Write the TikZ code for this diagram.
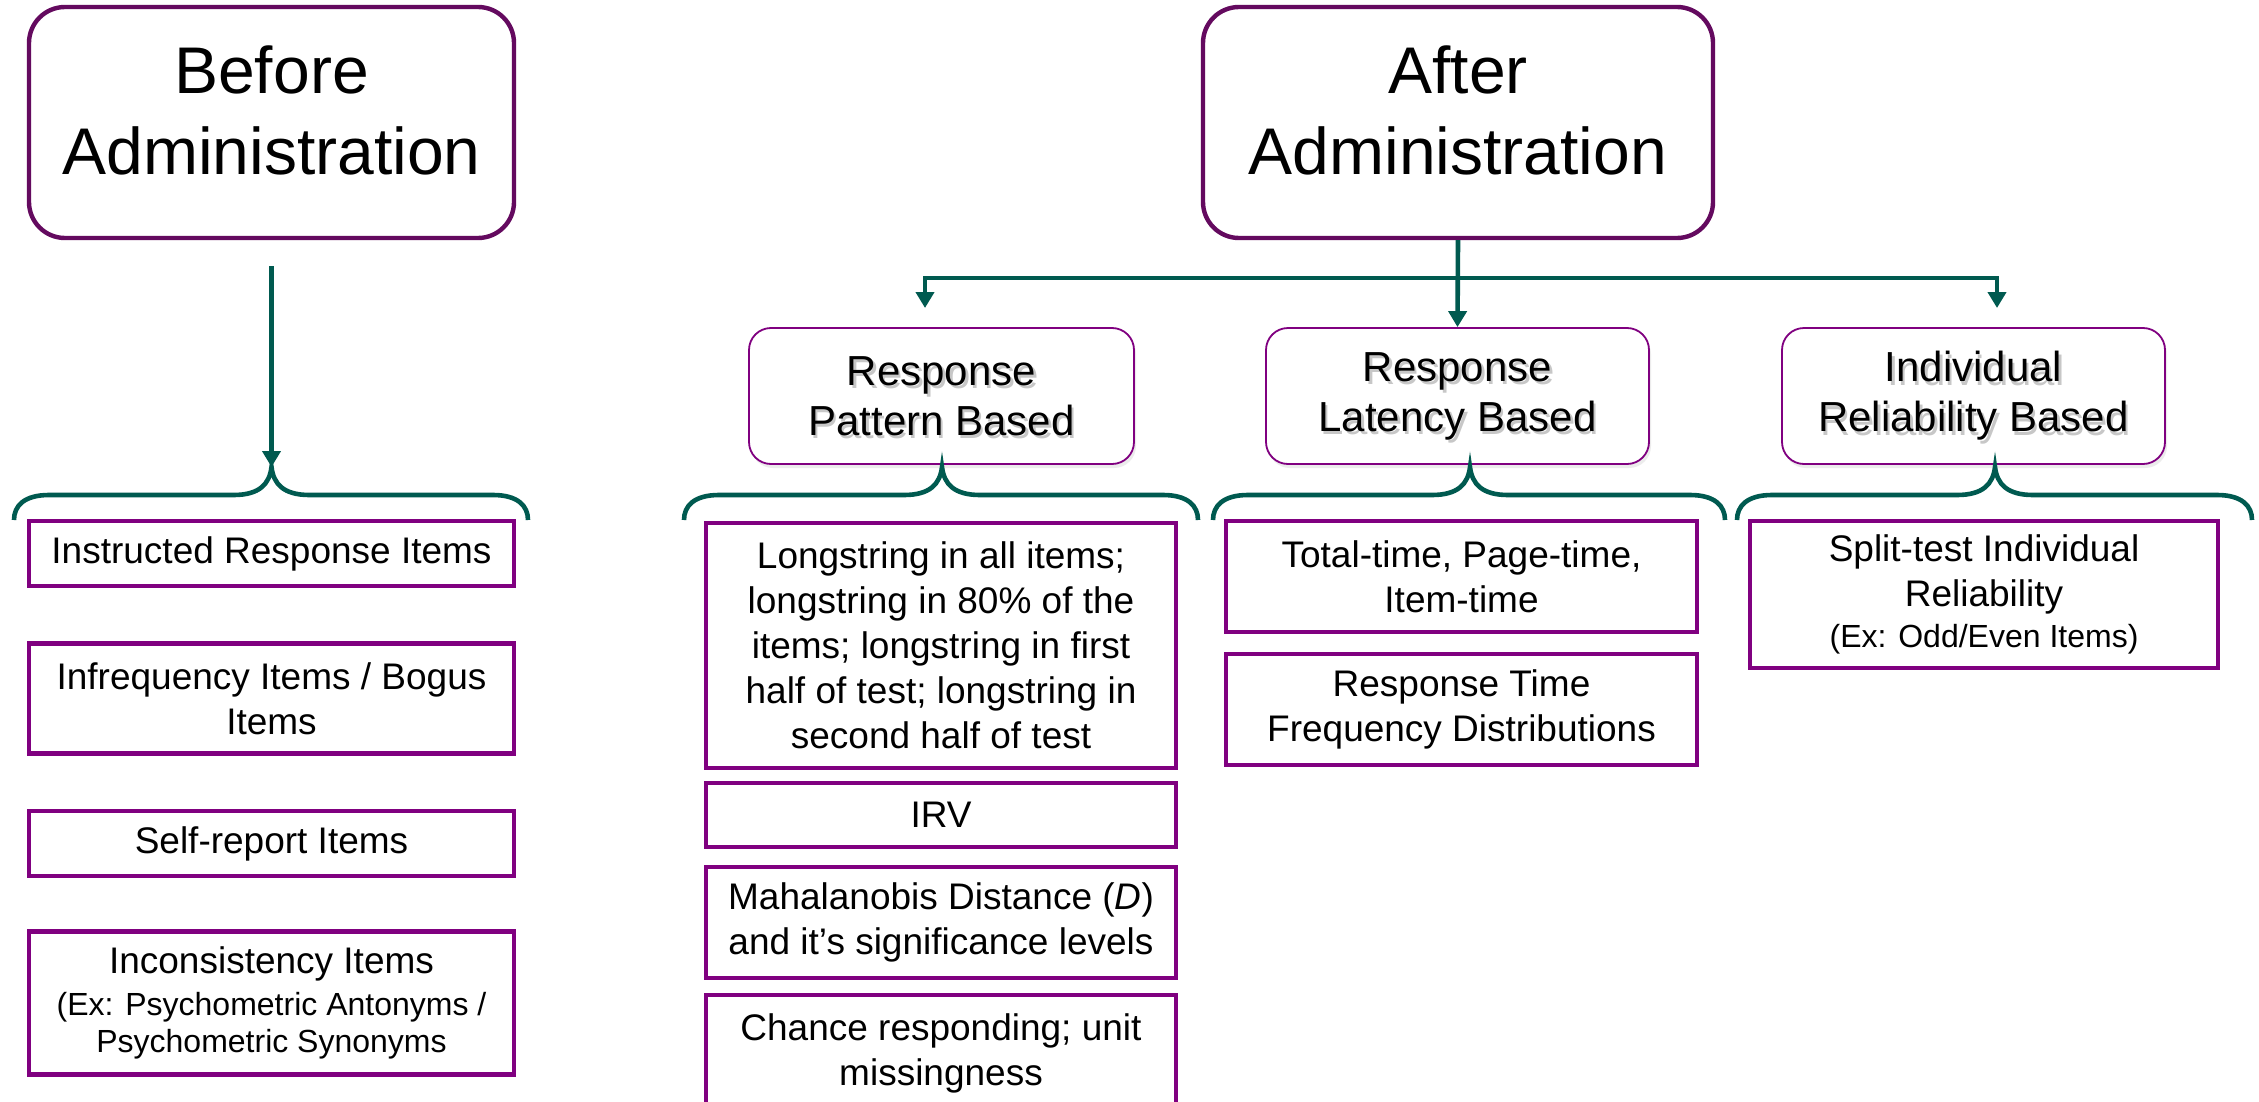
\documentclass[tikz,border=0pt]{standalone}
\usepackage{fontspec}
\setmainfont{Liberation Sans}
\usetikzlibrary{arrows.meta,shadows}
\definecolor{bigpurple}{RGB}{100,10,95}
\definecolor{itempurple}{RGB}{128,0,128}
\definecolor{tealc}{RGB}{0,90,80}
\tikzset{
 bigbox/.style={draw=bigpurple, line width=2.2pt, rounded corners=18pt, fill=white},
 bigtext/.style={font=\fontsize{33}{40.5}\selectfont, align=center, inner sep=0pt},
 catbox/.style={draw=itempurple, line width=0.9pt, rounded corners=11pt, fill=white,
   drop shadow={opacity=0.15, shadow xshift=1pt, shadow yshift=-2pt}},
 cattext/.style={font=\fontsize{21}{25}\selectfont, align=center, inner sep=0pt},
 catshadow/.style={cattext, text=black, text opacity=0.22},
 item/.style={draw=itempurple, line width=2.2pt, align=center, inner sep=0pt,
   font=\fontsize{18.5}{22.5}\selectfont},
 conn/.style={draw=tealc, line width=2.3pt, -{Triangle[width=9pt,length=8pt]}},
 brace/.style={draw=tealc, line width=2.3pt},
}
\newcommand{\smalltxt}{\fontsize{16}{19}\selectfont}
\newcommand{\bracedraw}[4]{%
 \coordinate (#1) at (#3,467);
 \draw[brace] (#2,520) .. controls (#2,506) and ({#2+10},495) .. ({#2+35},495)
   -- ({#3-38},495) .. controls ({#3-12},495) and ({#3-2},484) .. (#1)
   .. controls ({#3+2},484) and ({#3+12},495) .. ({#3+38},495)
   -- ({#4-35},495) .. controls ({#4-10},495) and (#4,506) .. (#4,520);
}
\begin{document}
\begin{tikzpicture}[x=0.5pt,y=-0.5pt]
\useasboundingbox[fill=white] (0,0) rectangle (2259,1102);

% top boxes
\node[bigbox, minimum width=242.5pt, minimum height=115.5pt] (before) at (271.5,122.5) {};
\node[bigtext] (beforeT) at ([yshift=6pt]before.center) {Before\\Administration};
\node[bigbox, minimum width=255pt, minimum height=115.5pt] (after) at (1458,122.5) {};
\node[bigtext] (afterT) at ([yshift=6pt]after.center) {After\\Administration};

% category boxes
\node[catbox, minimum width=192.5pt, minimum height=68pt] (pat) at (941.5,396) {};
\node[catshadow] (patS) at ([xshift=1.2pt,yshift=-1.6pt]pat.center) {Response\\Pattern Based};
\node[cattext] (patT) at (pat.center) {Response\\Pattern Based};

\node[catbox, minimum width=191.5pt, minimum height=68pt] (lat) at (1457.5,396) {};
\node[catshadow] (latS) at ([xshift=1.2pt,yshift=-1.6pt]lat.center) {Response\\Latency Based};
\node[cattext] (latT) at (lat.center) {Response\\Latency Based};

\node[catbox, minimum width=191.5pt, minimum height=68pt] (ind) at (1973.5,396) {};
\node[catshadow] (indS) at ([xshift=1.2pt,yshift=-1.6pt]ind.center) {Individual\\Reliability Based};
\node[cattext] (indT) at (ind.center) {Individual\\Reliability Based};

% braces
\bracedraw{br0}{14}{271.5}{528}
\bracedraw{br1}{684}{942}{1198}
\bracedraw{br2}{1213}{1470}{1725}
\bracedraw{br3}{1737}{1995}{2252}

% connectors
\draw[conn] ([yshift=-13pt]before.south) -- (br0);
\draw[conn] (after.south) -- (lat.north);
\coordinate (junc) at (1458,278);
\coordinate (patArr) at (925,308);
\coordinate (indArr) at (1997,308);
\draw[conn] (junc) -| (patArr);
\draw[conn] (junc) -| (indArr);

% left column items
\node[item, minimum width=242.5pt, minimum height=32.25pt] (l1) at (271.5,553.5) {Instructed Response Items};
\node[item, minimum width=242.5pt, minimum height=55pt] (l2) at (271.5,698.5) {Infrequency Items / Bogus\\Items};
\node[item, minimum width=242.5pt, minimum height=32.75pt] (l3) at (271.5,843.5) {Self-report Items};
\node[item, minimum width=242.5pt, minimum height=71.5pt] (l4) at (271.5,1003) {Inconsistency Items\\[-1.5pt]{\smalltxt (Ex: Psychometric Antonyms /}\\[-4pt]{\smalltxt Psychometric Synonyms}};

% response pattern items
\node[item, minimum width=235pt, minimum height=122.5pt] (p1) at (941,645.5) {Longstring in all items;\\longstring in 80\% of the\\items; longstring in first\\half of test; longstring in\\second half of test};
\node[item, minimum width=235pt, minimum height=32pt] (p2) at (941,815) {IRV};
\node[item, minimum width=235pt, minimum height=55.5pt] (p3) at (941,922.5) {Mahalanobis Distance (\textit{D})\\and it’s significance levels};
\node[item, minimum width=235pt, minimum height=58pt] (p4) at (941,1053) {Chance responding; unit\\missingness};

% response latency items
\node[item, minimum width=235.5pt, minimum height=55.5pt] (q1) at (1461.5,576.5) {Total-time, Page-time,\\Item-time};
\node[item, minimum width=235.5pt, minimum height=55.5pt] (q2) at (1461.5,709.5) {Response Time\\Frequency Distributions};

% individual reliability item
\node[item, minimum width=234pt, minimum height=73.5pt] (r1) at (1984,594.5) {Split-test Individual\\Reliability\\[-2pt]{\smalltxt (Ex: Odd/Even Items)}};
\end{tikzpicture}
\end{document}
